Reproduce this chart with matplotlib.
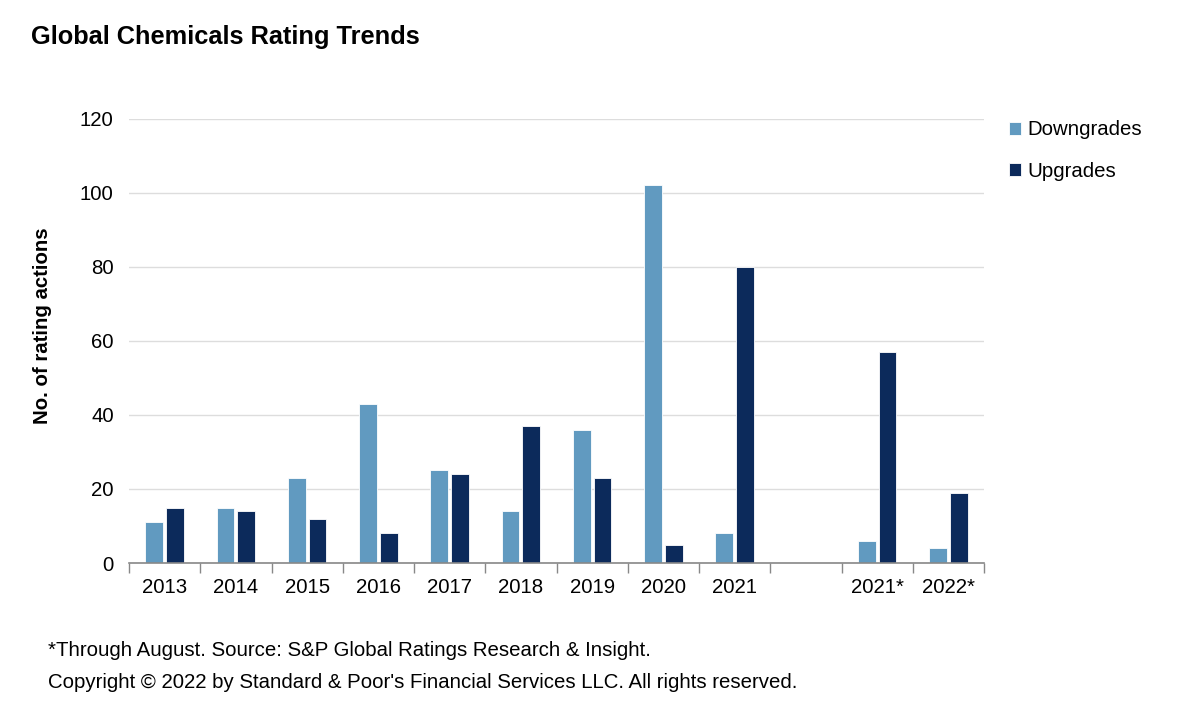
import numpy as np
import matplotlib.pyplot as plt
from matplotlib.ticker import FixedLocator

plt.rcParams['font.family'] = ['Liberation Sans', 'DejaVu Sans']

# chart data, blank slot between 2021 and 2021*
categories = ["2013", "2014", "2015", "2016", "2017", "2018", "2019",
              "2020", "2021", "", "2021*", "2022*"]
downgrades = [11, 15, 23, 43, 25, 14, 36, 102, 8, 0, 6, 4]
upgrades = [15, 14, 12, 8, 24, 37, 23, 5, 80, 0, 57, 19]
y_ticks = [0, 20, 40, 60, 80, 100, 120]

C_DOWN = "#619ac0"
C_UP = "#0c2a5b"
FS = 14.7

fig = plt.figure(figsize=(12, 7.2), dpi=100)
ax = fig.add_axes([0.1075, 0.218, 0.7125, 0.617])

x = np.arange(len(categories))
width = 0.25
ax.bar(x - width/2 - 0.02, downgrades, width, color=C_DOWN,
       edgecolor="white", linewidth=0.6, label="Downgrades", zorder=3)
ax.bar(x + width/2 + 0.02, upgrades, width, color=C_UP,
       edgecolor="white", linewidth=0.6, label="Upgrades", zorder=3)

ax.set_xlim(-0.5, len(categories) - 0.5)
ax.set_ylim(0, 120)
ax.set_yticks(y_ticks)
ax.set_xticks(x)
ax.set_xticklabels(categories, fontsize=FS)
ax.tick_params(axis="x", which="major", length=0, pad=11)
ax.xaxis.set_minor_locator(FixedLocator(np.arange(-0.5, len(categories), 1)))
ax.tick_params(axis="x", which="minor", length=7, color="#888888", width=1)
ax.tick_params(axis="y", length=0, labelsize=FS, pad=11)

ax.yaxis.grid(True, color="#dddddd", linewidth=1)
ax.set_axisbelow(True)
for s in ["top", "right", "left"]:
    ax.spines[s].set_visible(False)
ax.spines["bottom"].set_color("#888888")
ax.spines["bottom"].set_linewidth(1.2)
ax.spines["bottom"].set_zorder(4)

ax.set_ylabel("No. of rating actions", fontsize=FS, fontweight="bold")
ax.yaxis.set_label_coords(-0.09, 0.534)

ax.legend(loc="upper left", bbox_to_anchor=(1.008, 1.038), frameon=False,
          fontsize=FS, handlelength=0.6, handleheight=0.6, handletextpad=0.3,
          labelspacing=1.1)

fig.text(0.026, 0.949, "Global Chemicals Rating Trends", fontsize=18.3,
         fontweight="bold", va="center")
fig.text(0.04, 0.097, "*Through August. Source: S&P Global Ratings Research & Insight.",
         fontsize=FS, va="center")
fig.text(0.04, 0.052, "Copyright \u00a9 2022 by Standard & Poor's Financial Services LLC. All rights reserved.",
         fontsize=FS, va="center")

fig.savefig("out.png", dpi=100)
